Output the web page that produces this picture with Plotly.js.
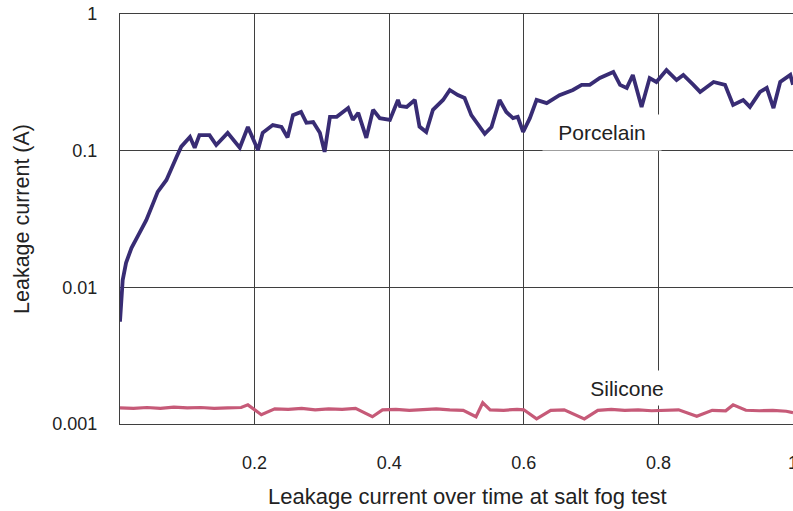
<!DOCTYPE html>
<html>
<head>
<meta charset="utf-8">
<script src="https://cdn.plot.ly/plotly-3.0.1.min.js"></script>
<style>html,body{margin:0;padding:0;background:#fff;}#chart{width:793px;height:511px;}</style>
</head>
<body>
<div id="chart"></div>
<script>
// Porcelain series (time fraction, leakage current in A)
const porcelainX = [0.000,0.002,0.004,0.009,0.017,0.029,0.039,0.049,0.056,0.069,0.076,0.084,0.091,0.101,0.104,0.111,0.118,0.133,0.143,0.160,0.178,0.190,0.205,0.212,0.227,0.240,0.249,0.257,0.269,0.277,0.287,0.297,0.304,0.312,0.322,0.339,0.346,0.354,0.366,0.376,0.386,0.401,0.413,0.416,0.426,0.438,0.445,0.455,0.465,0.480,0.490,0.502,0.512,0.522,0.532,0.542,0.552,0.564,0.574,0.584,0.591,0.599,0.609,0.619,0.634,0.653,0.673,0.686,0.698,0.713,0.733,0.743,0.753,0.762,0.775,0.787,0.797,0.812,0.827,0.837,0.852,0.862,0.882,0.899,0.911,0.926,0.936,0.951,0.961,0.971,0.981,0.996,1.000];
const porcelainY = [0.0056,0.0086,0.0113,0.0151,0.0194,0.025,0.031,0.041,0.050,0.061,0.072,0.090,0.107,0.120,0.126,0.105,0.130,0.130,0.110,0.135,0.105,0.149,0.101,0.135,0.154,0.149,0.125,0.182,0.192,0.160,0.162,0.135,0.098,0.177,0.177,0.205,0.168,0.189,0.124,0.199,0.173,0.168,0.235,0.212,0.209,0.235,0.150,0.137,0.199,0.235,0.278,0.255,0.243,0.182,0.154,0.133,0.149,0.235,0.192,0.173,0.177,0.137,0.173,0.235,0.223,0.255,0.278,0.303,0.303,0.340,0.377,0.303,0.288,0.358,0.209,0.340,0.318,0.389,0.329,0.358,0.303,0.269,0.318,0.303,0.216,0.235,0.209,0.269,0.288,0.205,0.318,0.358,0.303];

// Silicone series
const siliconeX = [0.000,0.020,0.040,0.060,0.080,0.100,0.120,0.140,0.160,0.180,0.190,0.200,0.210,0.230,0.250,0.270,0.290,0.310,0.330,0.350,0.375,0.390,0.410,0.430,0.450,0.470,0.490,0.510,0.529,0.539,0.550,0.570,0.590,0.600,0.619,0.640,0.660,0.690,0.710,0.730,0.750,0.770,0.790,0.810,0.830,0.857,0.880,0.900,0.911,0.930,0.950,0.970,0.990,1.000];
const siliconeY = [0.00131,0.00130,0.00132,0.00130,0.00133,0.00131,0.00132,0.00130,0.00131,0.00132,0.00138,0.00128,0.00117,0.00129,0.00128,0.00130,0.00127,0.00129,0.00128,0.00130,0.00113,0.00127,0.00128,0.00126,0.00127,0.00129,0.00127,0.00126,0.00113,0.00143,0.00127,0.00126,0.00128,0.00127,0.00109,0.00126,0.00127,0.00109,0.00126,0.00128,0.00126,0.00127,0.00125,0.00126,0.00127,0.00114,0.00126,0.00125,0.00138,0.00126,0.00125,0.00126,0.00124,0.00121];

// Axis ticks
const xTickVals = [0.2,0.4,0.6,0.8,1];
const xTickText = ['0.2','0.4','0.6','0.8','1'];
const yTickVals = [0.001,0.01,0.1,1];
const yTickText = ['0.001','0.01','0.1','1'];

const xTitle = 'Leakage current over time at salt fog test';
const yTitle = 'Leakage current (A)';

const textColor = '#222222';
const gridColor = '#3f3f3f';
const fontFamily = '"Liberation Sans", Arial, sans-serif';

const traces = [
  {x: porcelainX, y: porcelainY, type: 'scatter', mode: 'lines', name: 'Porcelain',
   line: {color: '#382c74', width: 3.8}},
  {x: siliconeX, y: siliconeY, type: 'scatter', mode: 'lines', name: 'Silicone',
   line: {color: '#c65a78', width: 3.2}}
];

const layout = {
  width: 793, height: 511,
  margin: {l: 120, r: 0, t: 14, b: 87, pad: 0},
  paper_bgcolor: '#ffffff', plot_bgcolor: '#ffffff',
  showlegend: false,
  font: {family: fontFamily, color: textColor, size: 18},
  xaxis: {
    range: [0, 1], tickmode: 'array', tickvals: xTickVals, ticktext: xTickText,
    showgrid: true, gridcolor: gridColor, gridwidth: 1.2,
    zeroline: false, showline: true, linecolor: gridColor, linewidth: 1.2, mirror: true,
    ticks: '', ticklabelstandoff: 22, automargin: false, ticklabeloverflow: 'allow',
    tickfont: {size: 18, color: textColor}
  },
  yaxis: {
    type: 'log', range: [-3, 0], tickmode: 'array', tickvals: yTickVals, ticktext: yTickText,
    showgrid: true, gridcolor: gridColor, gridwidth: 1.2,
    zeroline: false, showline: true, linecolor: gridColor, linewidth: 1.2,
    ticks: '', ticklabelstandoff: 18, automargin: false,
    tickfont: {size: 18, color: textColor},
    title: {text: yTitle, font: {size: 21.5, color: textColor}, standoff: 16}
  },
  annotations: [
    {x: 0.5167, y: -0.178, xref: 'x', yref: 'paper', text: xTitle, showarrow: false,
     xanchor: 'center', yanchor: 'middle', font: {size: 22, color: textColor}},
    {x: 0.716, y: -0.867, xref: 'x', yref: 'y', text: 'Porcelain', showarrow: false,
     font: {size: 21, color: textColor}, bgcolor: '#ffffff', width: 114, height: 31, borderpad: 2,
     align: 'center', valign: 'middle'},
    {x: 0.753, y: -2.736, xref: 'x', yref: 'y', text: 'Silicone', showarrow: false,
     font: {size: 21, color: textColor}, bgcolor: '#ffffff', width: 76, height: 30, borderpad: 2,
     align: 'center', valign: 'middle'}
  ]
};

Plotly.newPlot('chart', traces, layout, {displayModeBar: false, staticPlot: true});
</script>
</body>
</html>
